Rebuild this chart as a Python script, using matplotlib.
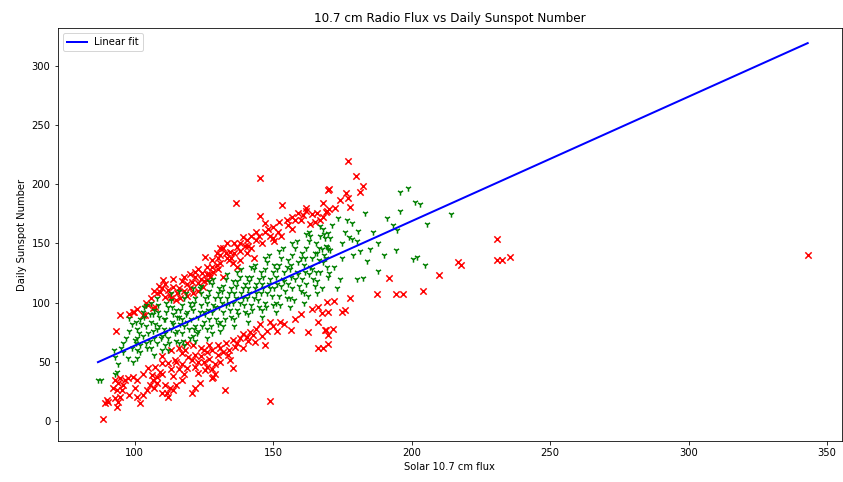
import matplotlib
matplotlib.use("Agg")
import matplotlib.pyplot as plt
import numpy as np

# points close to the fit (green)
green_flux = [
    86.8, 88.0, 93.0, 93.7, 92.6, 93.0, 94.0, 95.0, 96.0,
    97.7, 99.5, 100.9, 100.2, 97.0, 98.0, 99.0, 96.0, 99.0, 98.0,
    101, 102, 103, 101, 104, 102, 103, 104, 105, 101, 104, 102,
    106, 107, 108, 106, 109, 107, 108, 110, 109, 106, 108, 110, 107,
    111, 112, 113, 111, 114, 112, 113, 115, 114, 111, 115, 112, 113,
    116, 117, 118, 116, 119, 117, 118, 120, 119, 116, 120, 118, 117,
    121, 122, 123, 121, 124, 122, 125, 123, 124, 121, 125, 122, 124,
    126, 127, 128, 126, 129, 127, 130, 128, 129, 126, 130, 127, 128,
    131, 132, 133, 131, 134, 132, 135, 133, 134, 131, 135, 132,
    136, 137, 138, 136, 139, 137, 140, 138, 139, 136, 140, 137,
    141, 142, 143, 141, 144, 142, 145, 143, 144, 141, 145, 142,
    146, 147, 148, 146, 149, 147, 150, 148, 149, 146, 150, 147,
    151, 152, 153, 151, 154, 152, 155, 153, 154, 151, 155, 152,
    156, 157, 158, 156, 159, 157, 160, 158, 159, 156, 160, 157,
    161, 162, 163, 161, 164, 162, 165, 163, 164, 161, 165, 162, 163,
    166, 167, 168, 166, 169, 167, 170, 168, 169, 166, 170, 167,
    170.2, 171.3, 169.9, 168.8, 169.5, 170.6, 167.7, 173.5, 176.7, 178.5,
    180.7, 177.4, 178.5, 180.3, 181.4, 174.9, 183.2, 172, 175, 176,
    179, 174, 182.5, 180.3, 173,
    187.9, 191.0, 193.3, 194.8, 195.9, 198.7, 195.9, 201.3, 203.0, 205.6,
    194.4, 200.5, 202.0, 204.9, 214.3, 185, 188, 186, 184, 190,
    100.5, 101.5, 102.5, 103.5, 104.5, 105.5, 103.5, 100.5,
    105.5, 106.5, 107.5, 108.5, 109.5, 110.5, 108.5, 106.5,
    110.5, 111.5, 112.5, 113.5, 114.5, 115.5, 113.5, 111.5,
    115.5, 116.5, 117.5, 118.5, 119.5, 120.5, 118.5, 116.5,
    120.5, 121.5, 122.5, 123.5, 124.5, 125.5, 123.5, 121.5,
    125.5, 126.5, 127.5, 128.5, 129.5, 130.5, 128.5, 126.5,
    130.5, 131.5, 132.5, 133.5, 134.5, 135.5, 133.5, 131.5,
    135.5, 136.5, 137.5, 138.5, 139.5, 140.5, 138.5, 136.5,
    140.5, 141.5, 142.5, 143.5, 144.5, 145.5, 143.5, 141.5,
    145.5, 146.5, 147.5, 148.5, 149.5, 150.5, 148.5, 146.5,
    150.5, 151.5, 152.5, 153.5, 154.5, 155.5, 153.5, 151.5,
    155.5, 156.5, 157.5, 158.5, 159.5, 160.5, 158.5, 156.5,
    160.5, 161.5, 162.5, 163.5, 164.5, 165.5, 163.5, 161.5,
    165.5, 166.5, 167.5, 168.5, 169.5, 170.5, 168.5, 166.5,
]
green_ssn = [
    35, 35, 40, 41.5, 60, 54, 48, 62, 66,
    53, 50, 53, 68.5, 70, 76, 62, 58, 82, 87,
    60, 64, 72, 78, 80, 86, 92, 66, 74, 70, 98, 58,
    62, 70, 78, 84, 88, 94, 66, 72, 80, 100, 104, 60, 56,
    64, 70, 78, 86, 90, 96, 102, 68, 82, 74, 94, 60, 108,
    66, 74, 80, 88, 92, 98, 104, 70, 84, 110, 100, 64, 86,
    72, 80, 88, 94, 98, 104, 84, 76, 108, 112, 92, 68, 114,
    78, 86, 92, 100, 104, 110, 82, 116, 96, 70, 108, 118, 74,
    84, 92, 98, 104, 108, 114, 88, 120, 100, 76, 112, 80,
    86, 94, 100, 108, 112, 118, 92, 122, 104, 80, 116, 126,
    90, 98, 104, 112, 116, 122, 96, 128, 108, 84, 120, 130,
    94, 100, 108, 116, 120, 128, 98, 134, 112, 88, 126, 138,
    100, 106, 114, 122, 126, 132, 104, 138, 118, 92, 130, 144,
    104, 112, 120, 128, 134, 140, 110, 146, 124, 96, 138, 150,
    108, 116, 124, 132, 138, 146, 114, 152, 128, 100, 142, 158, 160,
    118, 126, 134, 142, 148, 156, 122, 162, 138, 108, 145, 165,
    125, 165.7, 159, 154.7, 147, 144.5, 145.4, 171.6, 170, 167.4,
    160.6, 155.5, 153.8, 152.2, 143.7, 137.8, 175.8, 130, 150, 160,
    140, 120, 121, 120, 112,
    126.8, 171.6, 165.7, 161.5, 193.6, 197, 177.5, 185, 183.4, 166.5,
    144.5, 137, 138.6, 131.9, 175, 145, 150, 160, 135, 140,
    66, 74, 82, 88, 62, 90, 96, 84,
    68, 76, 82, 92, 70, 86, 98, 90,
    78, 92, 66, 84, 74, 88, 96, 100,
    76, 94, 68, 90, 78, 96, 108, 82,
    86, 100, 74, 92, 80, 104, 112, 78,
    90, 106, 80, 98, 86, 112, 120, 94,
    96, 110, 86, 104, 94, 118, 124, 100,
    100, 114, 90, 108, 98, 122, 128, 104,
    104, 118, 94, 112, 102, 126, 132, 108,
    108, 122, 96, 116, 106, 132, 140, 112,
    112, 128, 98, 120, 110, 136, 146, 116,
    116, 132, 102, 126, 114, 142, 152, 122,
    120, 138, 106, 130, 120, 150, 156, 126,
    126, 146, 112, 140, 130, 155, 158, 136,
]

# points far from the fit (red)
red_flux = [
    94.8, 93.3, 99.8, 103.8, 107.4, 99.5, 103.0, 106.7, 110.3, 109.2,
    112.1, 113.9, 112.8, 115.3, 116.4, 111.0, 108.1, 121.8, 124.4, 126.2,
    122.9, 120.8, 124.7, 127.3, 128.4, 125.5, 128.0, 129.8, 130.9, 132.0,
    133.4, 134.5, 137.0, 139.2, 140.6, 138.1, 133.4, 129.8, 135.6, 145.4,
    136.7, 153.2, 145.3, 147.0, 148.2, 151.8, 150.0, 149.0, 155.4, 159.0,
    161.9, 160.8, 163.4, 167.0, 169.2, 169.9, 140.6, 143.9, 150.5, 177.0,
    180.0, 182.5, 181.4, 170.2, 176.3, 177.0, 177.8, 174.2, 172.4, 169.5,
    170.2, 168.0,
    118, 119, 120, 123, 126, 131, 136, 142, 144, 146,
    153, 157, 158, 165, 164, 117, 114, 105, 101, 98,
    104, 110, 115, 121, 125, 130, 135, 138, 141, 143,
    127, 132, 137, 119, 123,
    106, 107, 109, 111, 113, 116, 118, 120, 122, 124,
    126, 128, 130, 131, 133, 134, 136, 138, 140, 142,
    145, 147, 150, 152, 155, 157, 160, 162, 166, 168,
    88.6, 90.0, 90.4, 89.3, 93.7, 94.0, 93.0, 94.8, 92.2, 93.7,
    95.5, 94.0, 93.0, 94.8, 96.6, 97.7, 99.5, 101.0, 102.0, 104.5,
    105.6, 103.1, 106.7, 108.1, 106.3, 109.2, 111.0, 112.1, 111.7, 113.9,
    112.8, 107.4, 109.9, 112.1, 114.6, 117.1, 119.3, 118.2, 120.8, 121.8,
    122.9, 123.6, 121.8, 120.8, 164.1, 166.2, 169.5, 167.7, 166.3, 168.8,
    169.9, 166.3, 162.6, 156.5, 152.5, 151.4, 149.0, 145.3, 147.1, 141.7,
    142.8, 140.6, 139.2, 138.1, 136.3, 135.6, 143.5, 133.8, 134.5, 135.6,
    128.3, 128.0, 125.4, 132.7, 149.0, 124, 126, 128, 130, 125,
    127, 131, 129, 124, 132, 126, 130, 133, 128, 168,
    169.9, 170, 172, 174.9, 176, 171.7, 169, 177.8, 187.5, 194.4,
    197, 204, 209.9, 192, 216.8, 217.9, 230.9, 230.9, 232.7, 235.5,
    343, 114, 116, 118, 115, 117, 110, 113, 116, 119,
    121,
    96, 98, 100, 101, 103, 105, 107, 108, 110, 110,
    113, 115, 117, 119, 122, 123, 125, 127, 129, 131,
    134, 137, 139, 141, 144, 146, 148, 150, 154, 158,
    160,
]
red_ssn = [
    89.6, 76.1, 92, 89.6, 96.4, 92, 89.6, 95.5, 119.2, 109,
    110.7, 113.3, 106.5, 108.2, 104, 104.8, 108.2, 121.7, 125.1, 119.2,
    116.7, 117.5, 113.3, 121.7, 126, 138.6, 136, 142, 133.6, 146.2,
    150.5, 142.9, 147, 155.5, 142, 136, 137.8, 131.9, 133.6, 205.4,
    184.3, 182.6, 173.3, 167.4, 162.3, 159.8, 154.7, 156.4, 165.7, 175.8,
    177.5, 174.1, 166.5, 169.9, 176.7, 195.3, 153, 153, 152, 220,
    207, 198.6, 193.6, 196, 192.7, 188.5, 181, 186.8, 180, 177.5,
    179, 172.4,
    110, 116, 124, 128, 130, 140, 150, 146, 160, 150,
    156, 162, 170, 168, 175, 118, 120, 98, 95, 90,
    100, 112, 102, 108, 118, 128, 138, 144, 148, 138,
    124, 122, 130, 106, 110,
    104, 110, 114, 116, 104, 112, 122, 112, 126, 120,
    124, 130, 138, 146, 142, 136, 142, 150, 148, 156,
    156, 160, 164, 168, 170, 172, 170, 180, 176, 184,
    1.7, 17.7, 16, 15.2, 11.8, 16, 19.4, 20.3, 27.9, 26.2,
    26.2, 32.1, 34.7, 36.3, 34.7, 36.3, 37.2, 20.3, 15.2, 26.2,
    30.4, 22, 34.7, 37.2, 38.9, 41.4, 30.4, 20.3, 23.7, 26.2,
    27.9, 45.6, 49, 49, 51.6, 57.5, 54.1, 60, 51.6, 45.6,
    40.6, 32.1, 27.9, 23.7, 94.7, 96.4, 100.6, 91.3, 83.7, 77,
    72.7, 61.7, 75.2, 77, 83.7, 76, 83.7, 82, 64.2, 75.2,
    72.7, 71, 73.5, 70.2, 62.6, 68.5, 66.8, 55.8, 51.6, 44.8,
    37.2, 36.3, 43.1, 26.2, 17, 55, 58, 60, 56, 50,
    52, 62, 48, 62, 58, 46, 64, 66, 44, 62,
    65, 92, 101, 92, 94, 78, 77, 104, 107, 107,
    107, 110, 123.4, 121, 134.4, 131.9, 153.9, 136, 136, 138.6,
    140, 38, 44, 40, 30, 48, 55, 60, 62, 66,
    64,
    30, 22, 28, 35, 40, 45, 28, 32, 40, 24,
    44, 50, 35, 45, 56, 50, 60, 64, 40, 50,
    60, 66, 62, 68, 78, 72, 76, 80, 82, 86,
    90,
]

# linear fit
fit_slope = 1.052
fit_intercept = -41.6

fig = plt.figure(figsize=(843 / 72, 482 / 72), dpi=72)
ax = fig.add_axes([57.5 / 843, 1 - 441 / 482, (841.5 - 57.5) / 843, (441 - 28) / 482])

ax.scatter(red_flux, red_ssn, c="r", marker="x", s=40)
ax.scatter(green_flux, green_ssn, c="g", marker="1", s=40)

all_flux = np.concatenate([green_flux, red_flux])
fit_x = np.array([all_flux.min(), all_flux.max()])
ax.plot(fit_x, fit_slope * fit_x + fit_intercept, "b-", lw=2, label="Linear fit")

ax.set_xlim(72.2, 355.2)
ax.set_ylim(-16.9, 332)
ax.set_xlabel("Solar 10.7 cm flux")
ax.set_ylabel("Daily Sunspot Number")
ax.set_title("10.7 cm Radio Flux vs Daily Sunspot Number")
ax.legend(loc="upper left")

fig.savefig("out.png", dpi=72)
